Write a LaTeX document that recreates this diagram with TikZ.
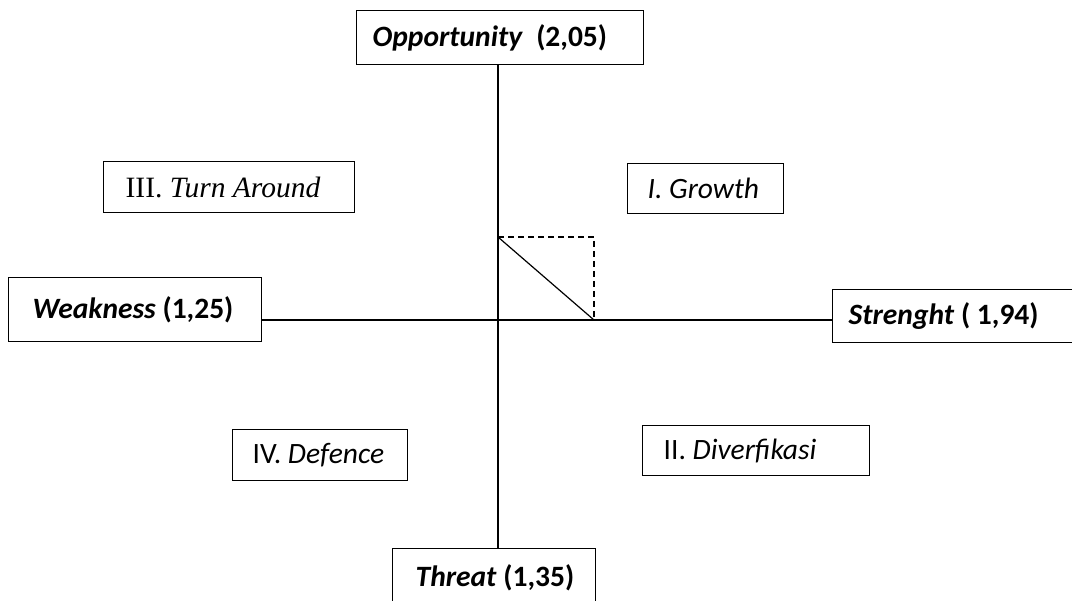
\documentclass[tikz,border=0pt]{standalone}
\usepackage{fontspec}
\setmainfont{Carlito}
\newfontfamily\timesf{Liberation Serif}
\newcommand{\lbx}[2]{\makebox[#1][l]{#2}}
\begin{document}
\begin{tikzpicture}[x=1pt,y=-1pt,
  boxstyle/.style={draw=black, line width=1.3pt, fill=white, anchor=north west,
    inner ysep=0pt, font=\fontsize{29.5}{34}\selectfont},
  axisline/.style={line width=1.2pt},
  dashline/.style={line width=1.2pt, dash pattern=on 6pt off 4pt}]
\useasboundingbox (0,0) rectangle (1072,601);
% quadrant boxes
\node[boxstyle, inner xsep=22pt, minimum height=51pt, font=\timesf\fontsize{29.5}{34}\selectfont] (turn) at (103,161) {\lbx{207pt}{III. \textit{Turn Around}}};
\node[boxstyle, inner xsep=20pt, minimum height=50pt] (growth) at (627,163) {\lbx{116pt}{\textit{I. Growth}}};
\node[boxstyle, inner xsep=20pt, minimum height=51pt] (defence) at (232,429) {\lbx{135pt}{IV. \textit{Defence}}};
\node[boxstyle, inner xsep=21pt, minimum height=50pt] (diver) at (642,425) {\lbx{185pt}{II. \textit{Diverfikasi}}};
% axis boxes
\node[boxstyle, inner xsep=16pt, minimum height=54pt] (opp) at (356,10) {\lbx{255pt}{\textbf{\textit{Opportunity}\ \ (2,05)}}};
\node[boxstyle, inner xsep=24pt, minimum height=64pt] (weak) at (8,277) {\lbx{205pt}{\textbf{\textit{Weakness} (1,25)}}};
\node[boxstyle, inner xsep=16pt, minimum height=53pt] (str) at (832,289) {\lbx{240pt}{\textbf{\textit{Strenght} ( 1,94)}}};
\node[boxstyle, inner xsep=23pt, minimum height=58pt] (threat) at (392,548) {\lbx{157pt}{\textbf{\textit{Threat} (1,35)}}};
% axes
\coordinate (cross) at (498,320);
\draw[axisline] (opp.south -| cross) -- (threat.north -| cross);
\draw[axisline] (weak.east |- cross) -- (str.west |- cross);
% triangle
\coordinate (ta) at (498,237);
\coordinate (tb) at (594,320);
\coordinate (tc) at (594,237);
\coordinate (td) at (690,320);
\draw[axisline] (ta) -- (tb);
\draw[dashline] (ta) -- (tc) -- (tb);
\draw[dashline, line width=2pt] (tb) -- (td);
\end{tikzpicture}
\end{document}
